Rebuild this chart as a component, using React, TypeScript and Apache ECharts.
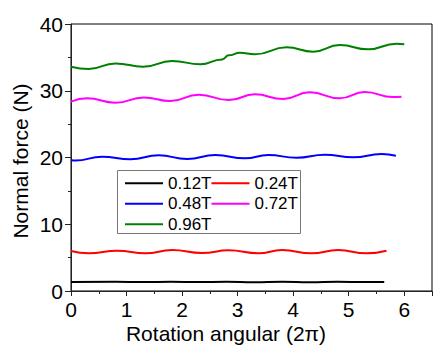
import React, { useEffect, useRef } from "react";
import * as echarts from "echarts";

const seriesNames = ["0.12T", "0.24T", "0.48T", "0.72T", "0.96T"];
const seriesColors = ["#000000", "#ff0000", "#0000ff", "#ff00ff", "#008000"];

const data012: [number, number][] = [
  [0, 1.35], [0.8, 1.4], [1.3, 1.33], [1.8, 1.4], [2.3, 1.33], [2.8, 1.38],
  [3.3, 1.3], [3.8, 1.38], [4.3, 1.32], [4.8, 1.38], [5.3, 1.33], [5.64, 1.35],
];
const data024: [number, number][] = [
  [0, 5.99], [0.32, 5.64], [0.83, 6.04], [1.34, 5.64], [1.82, 6.14], [2.36, 5.69],
  [2.84, 6.09], [3.37, 5.64], [3.8, 6.14], [4.33, 5.64], [4.81, 6.14], [5.32, 5.64], [5.68, 6.04],
];
const data048: [number, number][] = [
  [0, 19.63], [0.08, 19.55], [0.56, 20.12], [1.07, 19.73], [1.58, 20.33], [2.09, 19.78],
  [2.6, 20.37], [3.13, 19.88], [3.55, 20.37], [4.06, 19.97], [4.57, 20.42], [5.08, 20.03],
  [5.59, 20.52], [5.85, 20.27],
];
const data072: [number, number][] = [
  [0, 28.36], [0.29, 28.86], [0.8, 28.2], [1.31, 29.0], [1.79, 28.46], [2.3, 29.4],
  [2.84, 28.6], [3.31, 29.46], [3.82, 28.76], [4.3, 29.76], [4.84, 28.86], [5.29, 29.8],
  [5.8, 29.05], [5.95, 29.1],
];
const data096: [number, number][] = [
  [0, 33.6], [0.32, 33.26], [0.8, 34.1], [1.3, 33.6], [1.82, 34.46], [2.33, 33.96],
  [2.72, 34.7], [2.84, 35.3], [3.04, 35.7], [3.31, 35.46], [3.88, 36.5], [4.36, 35.86],
  [4.84, 36.85], [5.35, 36.2], [5.86, 37.05], [6.0, 36.95],
];
const allData = [data012, data024, data048, data072, data096];

const xTitle = "Rotation angular (2\u03c0)";
const yTitle = "Normal force (N)";

const FONT = "'Liberation Sans', Arial, sans-serif";

export default function App() {
  const ref = useRef<HTMLDivElement>(null);
  useEffect(() => {
    document.body.style.margin = "0";
    const chart = echarts.init(ref.current!, null, { renderer: "svg" });
    chart.setOption({
      animation: false,
      backgroundColor: "#ffffff",
      textStyle: { fontFamily: FONT },
      grid: {
        left: 71,
        right: 1,
        top: 24,
        bottom: 54,
        show: true,
        borderColor: "#000",
        borderWidth: 1,
        containLabel: false,
      },
      xAxis: {
        type: "value",
        min: 0,
        max: 6.5,
        interval: 1,
        axisLine: { show: true, lineStyle: { color: "#222", width: 1 } },
        axisTick: { show: true, inside: false, length: 5, lineStyle: { color: "#222" } },
        minorTick: { show: true, splitNumber: 2, length: 3, lineStyle: { color: "#222" } },
        splitLine: { show: false },
        axisLabel: {
          fontSize: 21,
          lineHeight: 20,
          color: "#000",
          margin: 8,
          fontFamily: FONT,
          showMaxLabel: false,
          formatter: (v: number) => (Number.isInteger(v) ? String(v) : ""),
        },
      },
      yAxis: {
        type: "value",
        min: 0,
        max: 40,
        interval: 10,
        axisLine: { show: true, lineStyle: { color: "#222", width: 1 } },
        axisTick: { show: true, inside: false, length: 6, lineStyle: { color: "#222" } },
        minorTick: { show: true, splitNumber: 2, length: 3, lineStyle: { color: "#222" } },
        splitLine: { show: false },
        axisLabel: { fontSize: 21, color: "#000", margin: 8, fontFamily: FONT },
      },
      legend: {
        left: 125,
        top: 173,
        padding: 0,
        width: 175,
        itemGap: 0,
        itemWidth: 38,
        itemHeight: 2,
        icon: "rect",
        orient: "horizontal",
        textStyle: { fontSize: 17, color: "#000", lineHeight: 20.5, fontFamily: FONT },
        data: seriesNames,
      },
      graphic: [
        {
          type: "rect",
          shape: { x: 117.5, y: 170.5, width: 183, height: 63 },
          style: { fill: "none", stroke: "#777", lineWidth: 1 },
          z: 10,
        },
        {
          type: "text",
          x: 226,
          y: 333.5,
          style: {
            text: xTitle,
            fontSize: 21,
            lineHeight: 20,
            fontFamily: FONT,
            fill: "#000",
            align: "center",
            verticalAlign: "middle",
          },
        },
        {
          type: "text",
          x: 20,
          y: 161,
          rotation: Math.PI / 2,
          style: {
            text: yTitle,
            fontSize: 21,
            fontFamily: FONT,
            fill: "#000",
            align: "center",
            verticalAlign: "middle",
          },
        },
      ],
      series: seriesNames.map((name, i) => ({
        name,
        type: "line",
        data: allData[i],
        smooth: true,
        smoothMonotone: "x",
        symbol: "none",
        lineStyle: { color: seriesColors[i], width: 2 },
        itemStyle: { color: seriesColors[i] },
      })),
    });
    return () => chart.dispose();
  }, []);
  return <div ref={ref} style={{ width: 433, height: 345 }} />;
}
